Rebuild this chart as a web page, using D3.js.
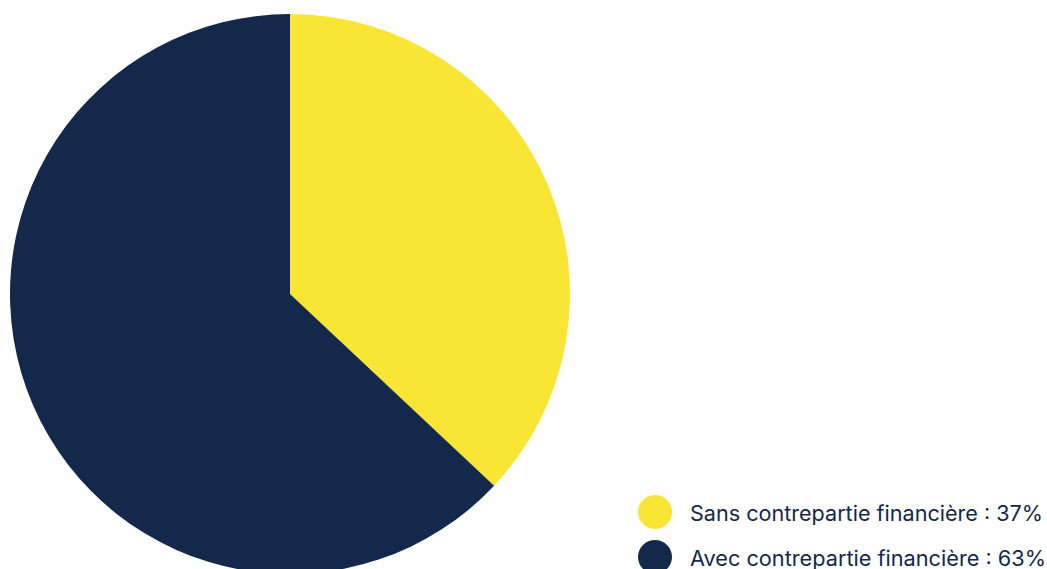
<!DOCTYPE html>
<html>
<head>
<meta charset="utf-8">
<script src="https://cdn.jsdelivr.net/npm/d3@7"></script>
<style>
  html, body { margin: 0; padding: 0; background: #ffffff; }
  svg { display: block; }
</style>
</head>
<body>
<svg id="chart" width="1047" height="569"></svg>
<script>
// Répartition : avec / sans contrepartie financière
const categories = ["Sans contrepartie financière", "Avec contrepartie financière"];
const values = [37, 63];
const colors = ["#f8e534", "#14284b"];

const svg = d3.select("#chart");
const cx = 290, cy = 294, radius = 280;

const pie = d3.pie().sort(null).value(d => d.value);
const arc = d3.arc().innerRadius(0).outerRadius(radius);

const data = categories.map((c, i) => ({ name: c, value: values[i], color: colors[i] }));

svg.append("g")
  .attr("transform", `translate(${cx},${cy})`)
  .selectAll("path")
  .data(pie(data))
  .join("path")
  .attr("d", arc)
  .attr("fill", d => d.data.color);

// Légende
const legendWidths = [353, 356];
const legend = svg.append("g").attr("transform", "translate(655,512)");
const item = legend.selectAll("g")
  .data(data)
  .join("g")
  .attr("transform", (d, i) => `translate(0,${i * 45})`);

item.append("circle")
  .attr("r", 17)
  .attr("fill", d => d.color);

item.append("text")
  .attr("x", 35)
  .attr("y", 9)
  .attr("font-family", "Inter, 'Noto Sans', sans-serif")
  .attr("font-size", 21)
  .attr("fill", "#14284b")
  .attr("textLength", (d, i) => legendWidths[i])
  .attr("lengthAdjust", "spacingAndGlyphs")
  .text(d => `${d.name} : ${d.value}%`);
</script>
</body>
</html>
